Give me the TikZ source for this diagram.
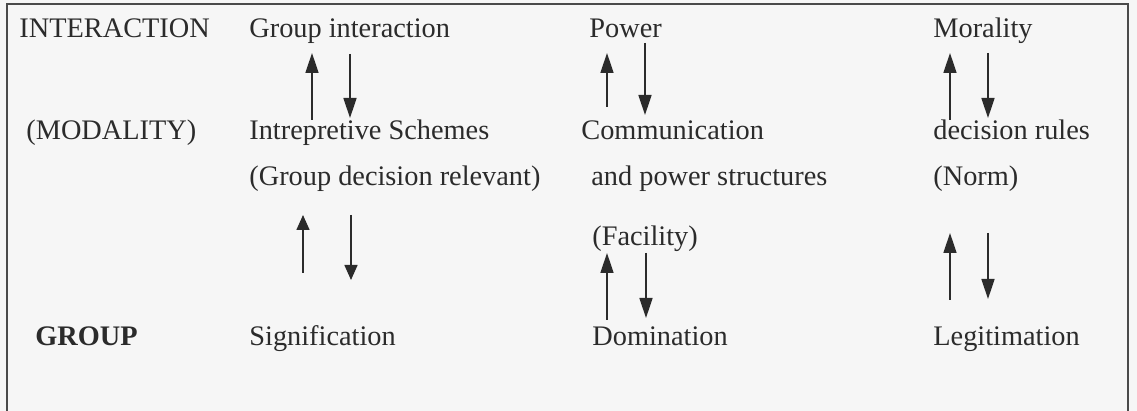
\documentclass[tikz,border=0pt]{standalone}
\usepackage{fontspec}
\setmainfont{Liberation Serif}[FakeStretch=1.001]
\usetikzlibrary{arrows.meta}
\definecolor{ink}{HTML}{2B2B2B}
\definecolor{paper}{HTML}{F6F6F6}
\definecolor{frame}{HTML}{4A4A4A}
\tikzset{
  lbl/.style={anchor=base west, inner sep=0pt, text=ink, font=\fontsize{14.15}{17}\selectfont},
  arr/.style={draw=ink, line width=0.75pt, -{Triangle[length=10pt,width=6.5pt]}},
  arrs/.style={draw=ink, line width=0.75pt, -{Triangle[length=7.5pt,width=6.5pt]}},
  boxline/.style={draw=frame, line width=1pt}
}
\begin{document}
\begin{tikzpicture}[x=0.5pt,y=-0.5pt]
\fill[paper] (0,0) rectangle (1137,411);
\useasboundingbox (0,0) rectangle (1137,411);
% frame (open at the bottom)
\coordinate (fbl) at (7,411);
\coordinate (ftl) at (7,4);
\coordinate (ftr) at (1128,4);
\coordinate (fbr) at (1128,411);
\draw[boxline] (fbl) -- (ftl) -- (ftr) -- (fbr);
% row 1
\node[lbl] (interaction) at (19,37.5) {INTERACTION};
\node[lbl] (ginter) at (249,37.5) {Group interaction};
\node[lbl] (power) at (589,37.5) {Power};
\node[lbl] (moral) at (933,37.5) {Morality};
% row 2
\node[lbl] (modality) at (26,140) {(MODALITY)};
\node[lbl] (schemes) at (249,140) {Intrepretive Schemes};
\node[lbl] (comm) at (581,140) {Communication};
\node[lbl] (drules) at (933,140) {decision rules};
% row 3
\node[lbl] (gdr) at (249,186) {(Group decision relevant)};
\node[lbl] (pstruct) at (591,186) {and power structures};
\node[lbl] (norm) at (933,186) {(Norm)};
% row 4
\node[lbl] (facility) at (592,246) {(Facility)};
% row 5
\node[lbl, font=\fontsize{14.15}{17}\selectfont\bfseries] (group) at (35,346) {GROUP};
\node[lbl] (signif) at (249,346) {Signification};
\node[lbl] (domin) at (592,346) {Domination};
\node[lbl] (legit) at (933,346) {Legitimation};
% arrow end points
\coordinate (a1s) at (312,120); \coordinate (a1e) at (312,53);
\coordinate (a2s) at (350,54);  \coordinate (a2e) at (350,118);
\coordinate (a3s) at (607,107); \coordinate (a3e) at (607,53);
\coordinate (a4s) at (645,43);  \coordinate (a4e) at (645,115);
\coordinate (a5s) at (950,120); \coordinate (a5e) at (950,53);
\coordinate (a6s) at (988,53);  \coordinate (a6e) at (988,118);
\coordinate (a7s) at (303,273); \coordinate (a7e) at (303,215);
\coordinate (a8s) at (351,215); \coordinate (a8e) at (351,280);
\coordinate (a9s) at (607,320); \coordinate (a9e) at (607,253);
\coordinate (a10s) at (646,253); \coordinate (a10e) at (646,318);
\coordinate (a11s) at (950,300); \coordinate (a11e) at (950,233);
\coordinate (a12s) at (988,233); \coordinate (a12e) at (988,299);
% arrows
\draw[arr] (a1s) -- (a1e);
\draw[arr] (a2s) -- (a2e);
\draw[arr] (a3s) -- (a3e);
\draw[arr] (a4s) -- (a4e);
\draw[arr] (a5s) -- (a5e);
\draw[arr] (a6s) -- (a6e);
\draw[arrs] (a7s) -- (a7e);
\draw[arrs] (a8s) -- (a8e);
\draw[arr] (a9s) -- (a9e);
\draw[arr] (a10s) -- (a10e);
\draw[arr] (a11s) -- (a11e);
\draw[arr] (a12s) -- (a12e);
\end{tikzpicture}
\end{document}
